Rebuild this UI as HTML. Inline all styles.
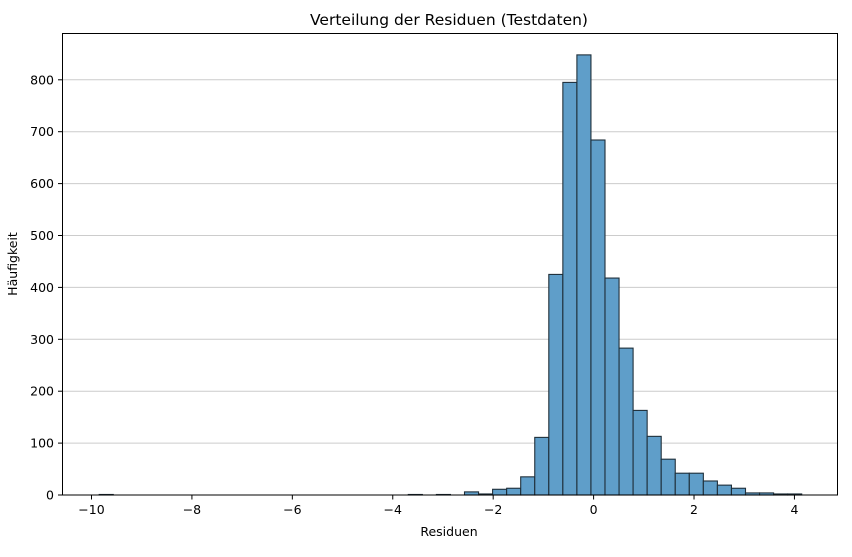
<!DOCTYPE html>
<html><head><meta charset="utf-8"><style>body{margin:0;background:#fff}</style></head><body>
<svg id="s" width="852" height="552" xmlns="http://www.w3.org/2000/svg" font-family="DejaVu Sans, Liberation Sans, sans-serif">
<rect width="852" height="552" fill="#fff"/>
<g id="grid"></g>
<g id="bars"></g>
<rect x="62.5" y="33.5" width="775" height="461.5" fill="none" stroke="#000" stroke-width="1"/>
<g id="ticks" font-size="12.5" fill="#000"></g>
<text x="449" y="25" font-size="15.5" text-anchor="middle">Verteilung der Residuen (Testdaten)</text>
<text x="449" y="536" font-size="12.5" text-anchor="middle">Residuen</text>
<text transform="translate(17,264) rotate(-90)" font-size="12.5" text-anchor="middle">Häufigkeit</text>
</svg>
<script>
var NS="http://www.w3.org/2000/svg";
function el(p,t,a,txt){var e=document.createElementNS(NS,t);for(var k in a)e.setAttribute(k,a[k]);if(txt!=null)e.textContent=txt;document.getElementById(p).appendChild(e);}
function Y(c){return 495-c*0.519;}
function X(v){return 91.5+(v+10)*50.21;}
for(var c=100;c<=800;c+=100){el("grid","line",{x1:62.5,x2:837.5,y1:Y(c),y2:Y(c),stroke:"#ccc","stroke-width":1});}
for(var c=0;c<=800;c+=100){el("ticks","line",{x1:58,x2:62.5,y1:Y(c),y2:Y(c),stroke:"#000"});el("ticks","text",{x:54,y:Y(c)+4.5,"text-anchor":"end"},String(c));}
for(var v=-10;v<=4;v+=2){el("ticks","line",{x1:X(v),x2:X(v),y1:495,y2:499.5,stroke:"#000"});el("ticks","text",{x:X(v),y:514,"text-anchor":"middle"},(v<0?"\u2212"+(-v):String(v)));}
var h={0:1,22:1,24:1,26:6,27:2,28:11,29:13,30:35,31:111,32:425,33:795,34:848,35:684,36:418,37:283,38:163,39:113,40:69,41:42,42:42,43:27,44:19,45:13,46:4,47:4,48:2,49:2};
for(var i=0;i<50;i++){var c=h[i]||0;if(!c)continue;var x=99.2+14.05*i;el("bars","rect",{x:x,y:Y(c),width:14.05,height:495-Y(c),fill:"#5f9ec9",stroke:"#1f2f3a","stroke-width":1.1});}
</script>
</body></html>
